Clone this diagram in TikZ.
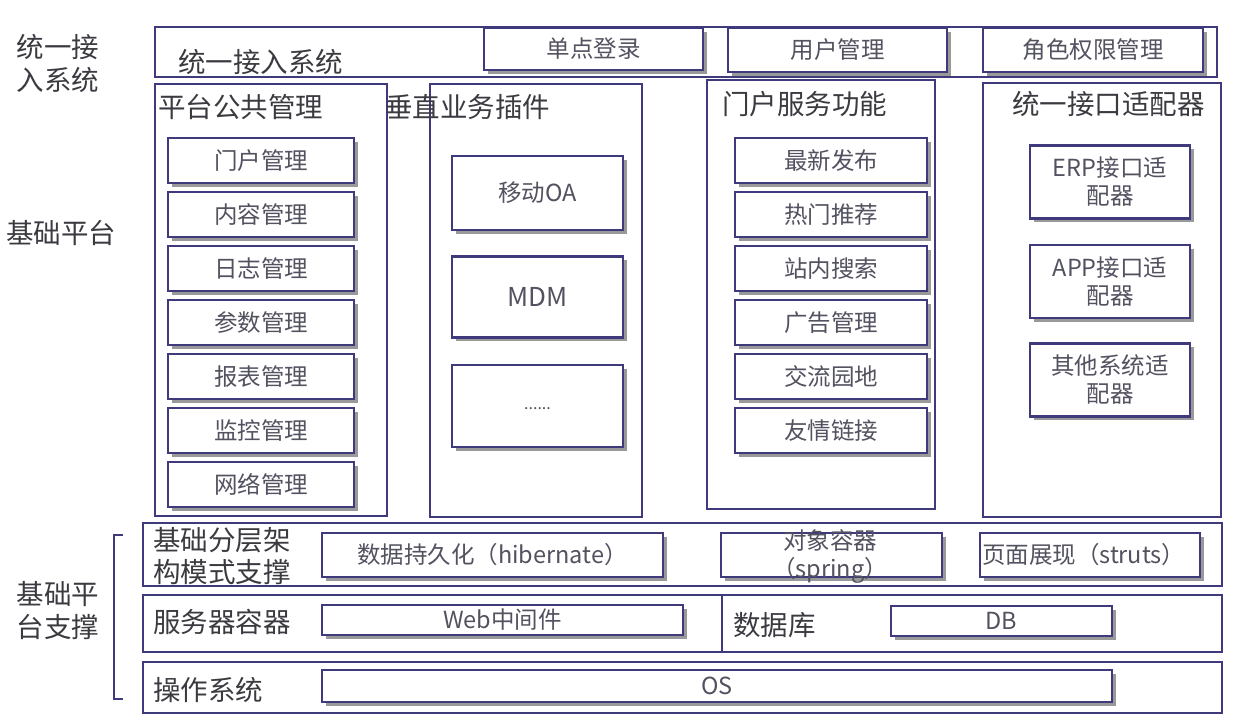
\documentclass[tikz,border=0pt]{standalone}
\usepackage{fontspec}
\setmainfont{Noto Sans CJK SC}
\usetikzlibrary{shadows}
\definecolor{frameblue}{RGB}{62,58,124}
\definecolor{titlegray}{RGB}{58,58,64}
\definecolor{itemgray}{RGB}{82,82,96}

\begin{document}
\begin{tikzpicture}[x=1pt,y=-1pt]
	  \tikzstyle{frame}=[rectangle,draw=frameblue,line width=2.5pt,inner sep=0pt]
	  \tikzstyle{module}=[rectangle,draw=frameblue,line width=2.8pt,fill=white,inner sep=0pt,
				  drop shadow={shadow xshift=3.5pt,shadow yshift=-3.5pt,fill=black!40,opacity=1},
				  text=itemgray,font=\fontsize{23.5}{28}\selectfont,align=center]
	  \tikzstyle{title}=[text=titlegray,font=\fontsize{27.5}{32}\selectfont,inner sep=0pt,anchor=west,align=left]
	  \tikzstyle{side}=[text=titlegray,font=\fontsize{27.5}{33}\selectfont,inner sep=0pt,align=center]

	\useasboundingbox (0,0) rectangle (1244,720);

	% left side labels
	\node (side_access) [side] at (58,63) {统一接\\入系统};
	\node (side_base) [side] at (61,233) {基础平台};
	\node (side_support) [side] at (58,611) {基础平\\台支撑};
	\coordinate (br_top) at (123,535);
	\coordinate (br_bot) at (123,699);
	\draw[frameblue,line width=1.8pt] (br_top) -- ++(-9,0) |- (br_bot);

	% unified access bar
	\node (access) [frame,line width=2.8pt,minimum width=1062pt,minimum height=50pt] at (686,52) {};
	\node (access_t) [title] at (178,62) {统一接入系统};
	\node (sso) [module,minimum width=219pt,minimum height=42pt] at (593.5,49) {单点登录};
	\node (usermgr) [module,minimum width=219pt,minimum height=44pt] at (837.5,50) {用户管理};
	\node (rolemgr) [module,minimum width=220pt,minimum height=44pt] at (1093,50) {角色权限管理};

	% base platform panels
	\node (pub) [frame,minimum width=232pt,minimum height=432pt] at (271,300) {};
	\node (vert) [frame,minimum width=212pt,minimum height=433pt] at (536,300.5) {};
	\node (portal) [frame,minimum width=228pt,minimum height=429pt] at (821,294.5) {};
	\node (adapter) [frame,minimum width=238pt,minimum height=434pt] at (1102,300) {};

	\node (pub_t) [title] at (158,107) {平台公共管理};
	\node (vert_t) [title] at (385,107) {垂直业务插件};
	\node (portal_t) [title] at (722,104) {门户服务功能};
	\node (adapter_t) [title] at (1012,104) {统一接口适配器};

	\foreach \name [count=\i from 0] in {门户管理,内容管理,日志管理,参数管理,报表管理,监控管理,网络管理}
		\node (pub\i) [module,minimum width=186pt,minimum height=45pt] at (261,160.5+54*\i) {\name};

	\node (oa) [module,minimum width=171pt,minimum height=74pt] at (537.5,193) {移动OA};
	\node (mdm) [module,minimum width=171pt,minimum height=81pt,font=\fontsize{26}{30}\selectfont] at (537.5,297) {MDM};
	\node (more) [module,minimum width=171pt,minimum height=82pt,font=\fontsize{16}{18}\selectfont] at (537.5,406) {\raisebox{-7pt}{......}};

	\foreach \name [count=\i from 0] in {最新发布,热门推荐,站内搜索,广告管理,交流园地,友情链接}
		\node (portal\i) [module,minimum width=192pt,minimum height=45pt] at (831,160.5+54*\i) {\name};

	\node (erp) [module,minimum width=160pt,minimum height=73pt] at (1110,182) {ERP接口适\\配器};
	\node (app) [module,minimum width=160pt,minimum height=73pt] at (1110,281.5) {APP接口适\\配器};
	\node (other) [module,minimum width=160pt,minimum height=73pt] at (1110,380) {其他系统适\\配器};

	% support layers
	\node (layer) [frame,line width=2.8pt,minimum width=1079pt,minimum height=63pt] at (682.5,554.5) {};
	\node (server) [frame,line width=2.8pt,minimum width=1079pt,minimum height=57pt] at (682.5,623.5) {};
	\node (system) [frame,line width=2.8pt,minimum width=1079pt,minimum height=51pt] at (682.5,687.5) {};
	\coordinate (div_top) at (722,595);
	\coordinate (div_bot) at (722,652);
	\draw[frameblue,line width=2.8pt] (div_top) -- (div_bot);

	\node (layer_t) [title] at (153,556) {基础分层架\\构模式支撑};
	\node (hibernate) [module,minimum width=341pt,minimum height=44pt] at (492.5,555) {数据持久化（hibernate）};
	\node (spring) [module,minimum width=221pt,minimum height=44pt] at (831.5,555) {};
	\node (spring_t) [text=itemgray,font=\fontsize{23.5}{28}\selectfont,align=center,inner sep=0pt] at (830,556) {对象容器\\（spring）};
	\node (struts) [module,minimum width=220pt,minimum height=44pt,text width=216pt,align=left] at (1090,555) {页面展现（struts）};

	\node (server_t) [title] at (153,622) {服务器容器};
	\node (web) [module,minimum width=361pt,minimum height=30pt] at (502.5,620) {Web中间件};
	\node (db_t) [title] at (733,625) {数据库};
	\node (db) [module,minimum width=221pt,minimum height=30pt] at (1001.5,621) {DB};

	\node (system_t) [title] at (153,690) {操作系统};
	\node (os) [module,minimum width=790pt,minimum height=32pt] at (717,686) {OS};

\end{tikzpicture}
\end{document}
